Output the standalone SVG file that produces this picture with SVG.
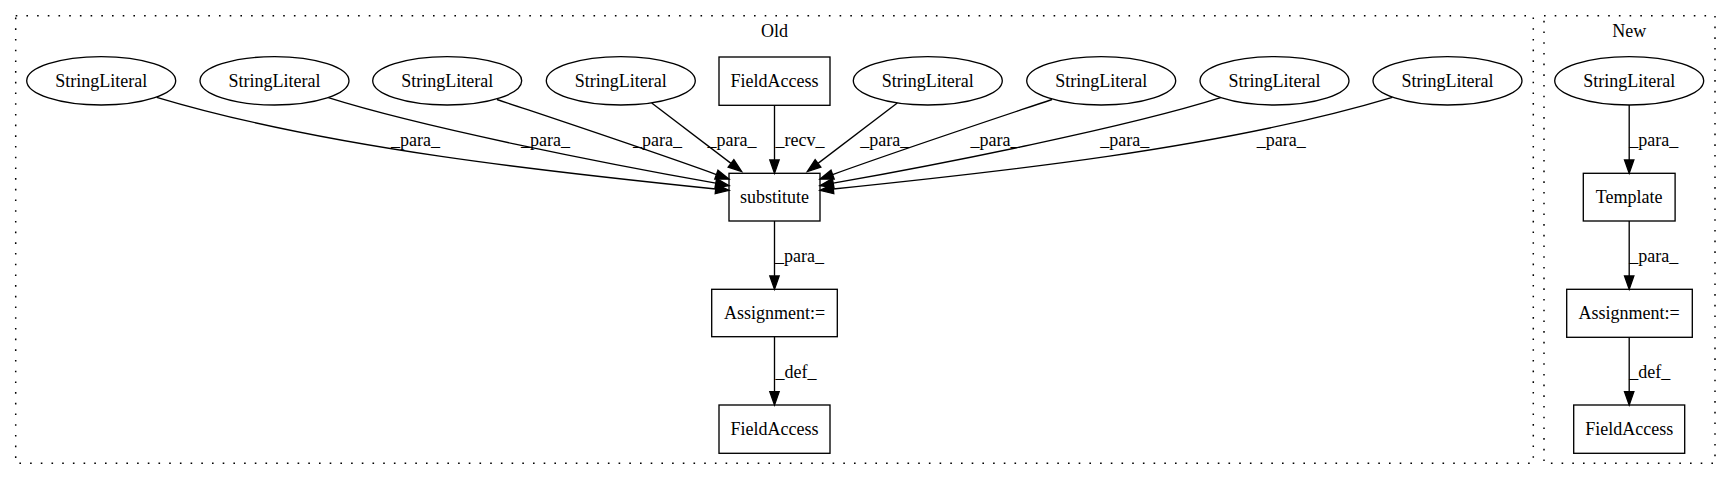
<svg xmlns="http://www.w3.org/2000/svg" width="1731" height="480" viewBox="0 0 1731 480">
<style>
text{font-family:"Liberation Serif","Times New Roman",serif;font-size:18px;fill:#000}
.t{text-anchor:middle}
.node ellipse,.node rect{fill:none;stroke:#000;stroke-width:1.34}
.cluster rect{fill:none;stroke:#000;stroke-width:1.5;stroke-dasharray:1.6,9.1}
.edge path{fill:none;stroke:#000;stroke-width:1.34;marker-end:url(#ah)}
</style>
<defs>
<marker id="ah" markerUnits="userSpaceOnUse" markerWidth="16" markerHeight="12" refX="0" refY="0" viewBox="-1 -6 16 12" orient="auto" overflow="visible">
<path d="M0,-4.7 L13.4,0 L0,4.7 z" fill="#000" stroke="#000" stroke-width="1.34"/>
</marker>
</defs>
<rect width="1731" height="480" fill="#fff"/>
<g id="cluster_old" class="cluster">
<rect x="15.7" y="15.7" width="1517.6" height="447.6"/>
<text class="t" x="774.5" y="37">Old</text>
</g>
<g id="cluster_new" class="cluster">
<rect x="1544" y="15.7" width="171" height="447.6"/>
<text class="t" x="1629.2" y="37">New</text>
</g>
<g id="edges" class="edge">
<path d="M156.7,97.3 C329.1,149 556.7,172.6 715.7,189"/>
<path d="M328.3,97.7 C424.6,128 607.6,164 715.8,183.2"/>
<path d="M497,99.5 C570,124 650,150.5 716.4,174.6"/>
<path d="M651.7,103 L731,163.4"/>
<path d="M774.5,105.3 L774.5,159.9"/>
<path d="M897.3,103 L818,163.4"/>
<path d="M1052,99.5 C979,124 899,150.5 832.6,174.6"/>
<path d="M1220.7,97.7 C1124.4,128 941.4,164 833.2,183.2"/>
<path d="M1392.3,97.3 C1219.9,149 992.3,172.6 833.3,189"/>
<path d="M774.5,221 L774.5,275.9"/>
<path d="M774.5,336.7 L774.5,391.6"/>
<path d="M1629.2,105 L1629.2,159.9"/>
<path d="M1629.2,221 L1629.2,275.9"/>
<path d="M1629.2,337.3 L1629.2,391.6"/>
<text class="t" x="415.5" y="146">_para_</text>
<text class="t" x="545.6" y="146">_para_</text>
<text class="t" x="657.5" y="146">_para_</text>
<text class="t" x="732" y="146">_para_</text>
<text class="t" x="800" y="146">_recv_</text>
<text class="t" x="884.7" y="146">_para_</text>
<text class="t" x="995" y="146">_para_</text>
<text class="t" x="1124.7" y="146">_para_</text>
<text class="t" x="1281.3" y="146">_para_</text>
<text class="t" x="799.5" y="262">_para_</text>
<text class="t" x="796" y="378">_def_</text>
<text class="t" x="1653.8" y="146">_para_</text>
<text class="t" x="1653.8" y="262">_para_</text>
<text class="t" x="1649.7" y="378">_def_</text>
</g>
<g id="sl1" class="node"><ellipse cx="101.2" cy="80.8" rx="74.5" ry="24.2"/><text class="t" x="101.2" y="86.8">StringLiteral</text></g>
<g id="sl2" class="node"><ellipse cx="274.5" cy="80.8" rx="74.5" ry="24.2"/><text class="t" x="274.5" y="86.8">StringLiteral</text></g>
<g id="sl3" class="node"><ellipse cx="447.2" cy="80.8" rx="74.5" ry="24.2"/><text class="t" x="447.2" y="86.8">StringLiteral</text></g>
<g id="sl4" class="node"><ellipse cx="620.8" cy="80.8" rx="74.5" ry="24.2"/><text class="t" x="620.8" y="86.8">StringLiteral</text></g>
<g id="fa_old_top" class="node"><rect x="719" y="57" width="111" height="48.3"/><text class="t" x="774.5" y="87">FieldAccess</text></g>
<g id="sl5" class="node"><ellipse cx="927.8" cy="80.8" rx="74.5" ry="24.2"/><text class="t" x="927.8" y="86.8">StringLiteral</text></g>
<g id="sl6" class="node"><ellipse cx="1101.2" cy="80.8" rx="74.5" ry="24.2"/><text class="t" x="1101.2" y="86.8">StringLiteral</text></g>
<g id="sl7" class="node"><ellipse cx="1274.5" cy="80.8" rx="74.5" ry="24.2"/><text class="t" x="1274.5" y="86.8">StringLiteral</text></g>
<g id="sl8" class="node"><ellipse cx="1447.5" cy="80.8" rx="74.5" ry="24.2"/><text class="t" x="1447.5" y="86.8">StringLiteral</text></g>
<g id="substitute" class="node"><rect x="729" y="173.3" width="91" height="47.7"/><text class="t" x="774.5" y="203">substitute</text></g>
<g id="assign_old" class="node"><rect x="711.7" y="289.3" width="125.6" height="47.4"/><text class="t" x="774.5" y="319">Assignment:=</text></g>
<g id="fa_old_bottom" class="node"><rect x="719" y="405" width="111" height="48.3"/><text class="t" x="774.5" y="435">FieldAccess</text></g>
<g id="sl_new" class="node"><ellipse cx="1629.2" cy="80.8" rx="74.5" ry="24.2"/><text class="t" x="1629.2" y="86.8">StringLiteral</text></g>
<g id="template" class="node"><rect x="1583.3" y="173.3" width="91.8" height="47.7"/><text class="t" x="1629.2" y="203">Template</text></g>
<g id="assign_new" class="node"><rect x="1566.7" y="289.3" width="125.6" height="48"/><text class="t" x="1629.2" y="319">Assignment:=</text></g>
<g id="fa_new" class="node"><rect x="1573.7" y="405" width="111" height="48.3"/><text class="t" x="1629.2" y="435">FieldAccess</text></g>
</svg>
